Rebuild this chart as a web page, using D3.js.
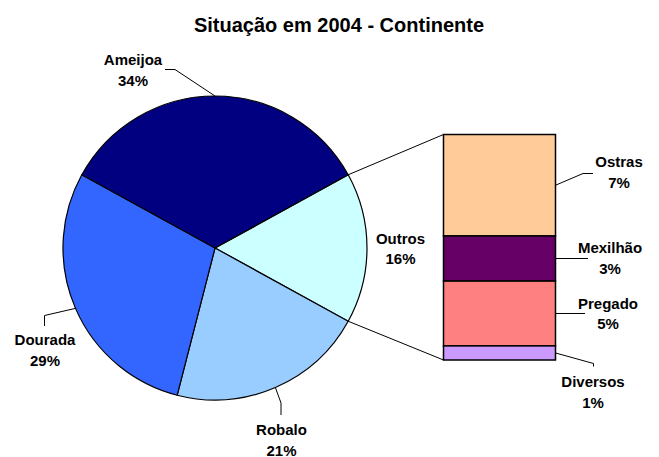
<!DOCTYPE html>
<html><head><meta charset="utf-8">
<script src="https://cdn.jsdelivr.net/npm/d3@7"></script>
<style>
html,body{margin:0;padding:0;background:#fff;}
svg{display:block;font-family:"Liberation Sans",Arial,Helvetica,sans-serif;}
</style></head>
<body><svg id="c" width="659" height="457"></svg>
<script>
// ---- data ----
const title = "Situação em 2004 - Continente";
const pieCategories = ["Outros", "Robalo", "Dourada", "Ameijoa"];
const pieValues = [16, 21, 29, 34];
const pieColors = ["#CCFFFF", "#99CCFF", "#3366FF", "#000080"];
const barCategories = ["Ostras", "Mexilhão", "Pregado", "Diversos"];
const barValues = [7.2, 3.2, 4.6, 1.0];
const barLabels = ["7%", "3%", "5%", "1%"];
const barColors = ["#FFCC99", "#660066", "#FF8080", "#CC99FF"];

// ---- layout ----
const svg = d3.select("#c");
const cx = 215, cy = 248, R = 152;
const bar = {x: 443.5, y: 134.5, w: 112, h: 225.5};

svg.append("text").attr("x", 339).attr("y", 32).attr("text-anchor", "middle")
  .attr("font-size", 20).attr("font-weight", "bold").text(title);

const total = d3.sum(pieValues);
const startAngle = Math.PI / 2 - (pieValues[0] / total) * Math.PI; // Outros centred at 3 o'clock
const pie = d3.pie().sort(null).value(d => d)
  .startAngle(startAngle).endAngle(startAngle + 2 * Math.PI);
const arcs = pie(pieValues);
const arc = d3.arc().innerRadius(0).outerRadius(R);
const g = svg.append("g").attr("transform", `translate(${cx},${cy})`);
g.selectAll("path").data(arcs).join("path")
  .attr("d", arc).attr("fill", (d, i) => pieColors[i])
  .attr("stroke", "#000").attr("stroke-width", 1.2).attr("stroke-linejoin", "round");

const pt = (a, r) => [cx + r * Math.sin(a), cy - r * Math.cos(a)];

// connector lines pie -> bar
const o = arcs[0];
const p1 = pt(o.startAngle, R), p2 = pt(o.endAngle, R);
const y = d3.scaleLinear().domain([0, d3.sum(barValues)]).range([bar.y, bar.y + bar.h]);
svg.append("line").attr("x1", p1[0]).attr("y1", p1[1]).attr("x2", bar.x).attr("y2", y(0))
  .attr("stroke", "#000").attr("stroke-width", 1);
svg.append("line").attr("x1", p2[0]).attr("y1", p2[1]).attr("x2", bar.x).attr("y2", y(d3.sum(barValues)))
  .attr("stroke", "#000").attr("stroke-width", 1);

// stacked bar
let cum = 0;
const segs = barValues.map((v, i) => { const s = {i, v, y0: cum, y1: cum + v}; cum += v; return s; });
svg.selectAll("rect.seg").data(segs).join("rect").attr("class", "seg")
  .attr("x", bar.x).attr("width", bar.w)
  .attr("y", d => y(d.y0)).attr("height", d => y(d.y1) - y(d.y0))
  .attr("fill", d => barColors[d.i]).attr("stroke", "#000").attr("stroke-width", 1.5);

// labels
function label(x, y1, lines) {
  const t = svg.append("text").attr("text-anchor", "middle").attr("font-size", 15)
    .attr("font-weight", "bold").attr("fill", "#000");
  lines.forEach((s, k) => t.append("tspan").attr("x", x).attr("y", y1 + k * 20.5).text(s));
}
function leader(points) {
  svg.append("polyline").attr("points", points.map(p => p.join(",")).join(" "))
    .attr("fill", "none").attr("stroke", "#000").attr("stroke-width", 1);
}

// pie labels: label position and leader elbow
const pieLabelPos = {
  "Ameijoa": {x: 133, y: 65, lead: m => [m, [175, 69.5], [165, 69.5]]},
  "Dourada": {x: 45, y: 345, lead: m => [m, [44.5, 315.5], [44.5, 326]]},
  "Robalo": {x: 281.5, y: 435, lead: m => [m, [281, 403], [281, 415]]},
  "Outros": {x: 400.5, y: 243.5, lead: null}
};
arcs.forEach((a, i) => {
  const name = pieCategories[i];
  const pos = pieLabelPos[name];
  const mid = pt((a.startAngle + a.endAngle) / 2, R);
  if (pos.lead) leader(pos.lead(mid));
  label(pos.x, pos.y, [name, Math.round(pieValues[i] / total * 100) + "%"]);
});

// bar labels
const barLabelPos = [
  {x: 619, y: 167, lead: m => [m, [583, 173.5], [593, 173.5]]},
  {x: 610, y: 253, lead: m => [m, [588, 258.5]]},
  {x: 608, y: 308.5, lead: m => [m, [585, m[1]]]},
  {x: 593, y: 387, lead: m => [m, [593.5, 363.5], [593.5, 366.5]]}
];
segs.forEach((s, i) => {
  const m = [bar.x + bar.w, (y(s.y0) + y(s.y1)) / 2];
  leader(barLabelPos[i].lead(m));
  label(barLabelPos[i].x, barLabelPos[i].y, [barCategories[i], barLabels[i]]);
});
</script></body></html>
